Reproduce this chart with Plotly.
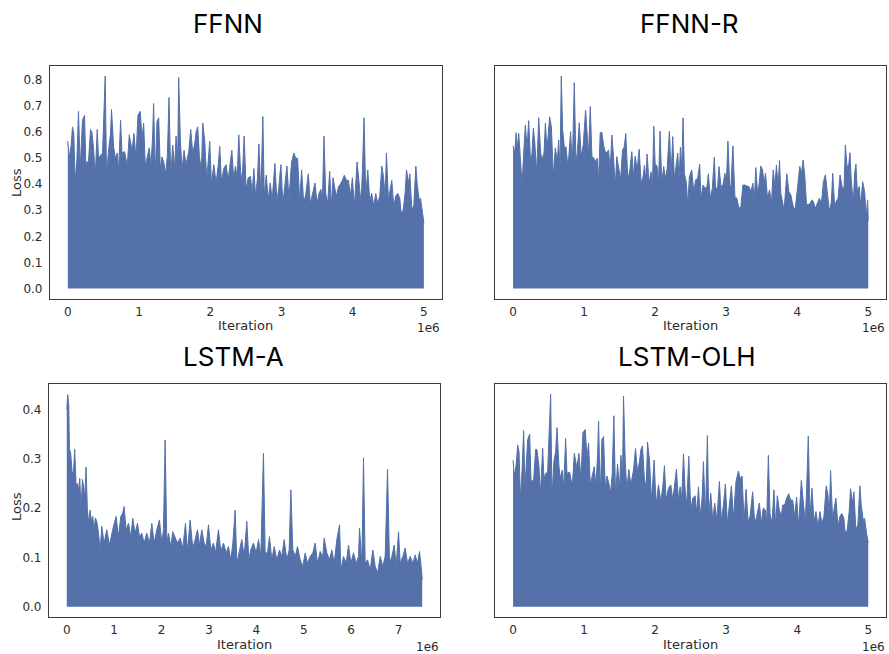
import plotly.graph_objects as go

# ---------------- data: upper envelope of each loss trace (iterations in units of 1e6) ----------------
ffnn_iter = [0.000, 0.019, 0.047, 0.066, 0.084, 0.103, 0.127, 0.150, 0.174, 0.206, 0.235, 0.253, 0.291, 0.319,
             0.338, 0.361, 0.385, 0.413, 0.431, 0.460, 0.488, 0.525, 0.544, 0.572, 0.600, 0.614, 0.643, 0.666,
             0.694, 0.713, 0.741, 0.760, 0.797, 0.835, 0.863, 0.901, 0.929, 0.957, 0.985, 1.018, 1.041, 1.065,
             1.088, 1.116, 1.144, 1.168, 1.191, 1.205, 1.229, 1.252, 1.276, 1.299, 1.323, 1.351, 1.374, 1.398,
             1.421, 1.445, 1.473, 1.501, 1.520, 1.543, 1.557, 1.581, 1.604, 1.632, 1.660, 1.698, 1.726, 1.754,
             1.782, 1.801, 1.824, 1.848, 1.876, 1.895, 1.923, 1.951, 1.993, 2.017, 2.050, 2.082, 2.111, 2.134,
             2.157, 2.190, 2.223, 2.251, 2.275, 2.303, 2.331, 2.354, 2.378, 2.401, 2.425, 2.448, 2.476, 2.504,
             2.533, 2.565, 2.589, 2.612, 2.636, 2.664, 2.683, 2.711, 2.739, 2.758, 2.786, 2.814, 2.842, 2.870,
             2.908, 2.936, 2.964, 2.992, 3.020, 3.049, 3.077, 3.105, 3.142, 3.175, 3.199, 3.227, 3.255, 3.283,
             3.311, 3.339, 3.377, 3.405, 3.433, 3.471, 3.499, 3.527, 3.555, 3.574, 3.597, 3.621, 3.649, 3.677,
             3.700, 3.724, 3.752, 3.775, 3.799, 3.827, 3.855, 3.883, 3.911, 3.940, 3.968, 3.996, 4.024, 4.062,
             4.090, 4.118, 4.137, 4.160, 4.184, 4.212, 4.240, 4.268, 4.296, 4.324, 4.352, 4.380, 4.409, 4.432,
             4.456, 4.474, 4.502, 4.531, 4.549, 4.577, 4.605, 4.634, 4.662, 4.681, 4.709, 4.737, 4.756, 4.784,
             4.803, 4.831, 4.859, 4.887, 4.906, 4.934, 4.953, 4.981, 5.000]
ffnn_loss = [0.566, 0.500, 0.550, 0.620, 0.595, 0.415, 0.490, 0.680, 0.460, 0.645, 0.665, 0.480, 0.490, 0.610,
             0.600, 0.540, 0.430, 0.610, 0.500, 0.510, 0.520, 0.815, 0.430, 0.530, 0.595, 0.687, 0.545, 0.500,
             0.520, 0.450, 0.645, 0.520, 0.525, 0.470, 0.590, 0.530, 0.595, 0.500, 0.665, 0.680, 0.575, 0.635,
             0.470, 0.505, 0.540, 0.470, 0.585, 0.710, 0.430, 0.640, 0.655, 0.455, 0.505, 0.480, 0.440, 0.510,
             0.733, 0.430, 0.550, 0.460, 0.585, 0.490, 0.810, 0.565, 0.455, 0.530, 0.475, 0.525, 0.610, 0.520,
             0.555, 0.600, 0.620, 0.505, 0.455, 0.635, 0.565, 0.415, 0.565, 0.400, 0.475, 0.405, 0.470, 0.545,
             0.410, 0.460, 0.475, 0.415, 0.475, 0.530, 0.415, 0.470, 0.425, 0.590, 0.455, 0.405, 0.585, 0.380,
             0.425, 0.430, 0.365, 0.460, 0.355, 0.425, 0.555, 0.355, 0.660, 0.355, 0.435, 0.340, 0.405, 0.340,
             0.480, 0.335, 0.390, 0.475, 0.325, 0.400, 0.470, 0.345, 0.485, 0.520, 0.500, 0.500, 0.335, 0.455,
             0.335, 0.355, 0.440, 0.325, 0.355, 0.405, 0.325, 0.365, 0.380, 0.325, 0.585, 0.365, 0.325, 0.450,
             0.315, 0.425, 0.380, 0.355, 0.390, 0.400, 0.415, 0.435, 0.415, 0.415, 0.355, 0.425, 0.315, 0.485,
             0.405, 0.325, 0.455, 0.655, 0.355, 0.455, 0.335, 0.365, 0.315, 0.365, 0.325, 0.355, 0.470, 0.430,
             0.355, 0.520, 0.340, 0.385, 0.415, 0.315, 0.355, 0.365, 0.345, 0.290, 0.300, 0.370, 0.455, 0.405,
             0.440, 0.300, 0.320, 0.470, 0.400, 0.340, 0.345, 0.290, 0.250]

ffnnr_iter = [0.000, 0.024, 0.043, 0.061, 0.080, 0.099, 0.127, 0.150, 0.173, 0.197, 0.220, 0.248, 0.267, 0.286,
              0.305, 0.333, 0.361, 0.389, 0.408, 0.436, 0.455, 0.478, 0.501, 0.515, 0.539, 0.567, 0.595, 0.623,
              0.642, 0.661, 0.679, 0.698, 0.726, 0.745, 0.773, 0.810, 0.834, 0.862, 0.885, 0.904, 0.932, 0.960,
              0.988, 1.021, 1.044, 1.063, 1.087, 1.110, 1.138, 1.157, 1.185, 1.204, 1.227, 1.250, 1.274, 1.297,
              1.321, 1.344, 1.367, 1.391, 1.414, 1.438, 1.461, 1.484, 1.513, 1.541, 1.564, 1.587, 1.616, 1.644,
              1.672, 1.695, 1.719, 1.747, 1.775, 1.803, 1.831, 1.850, 1.869, 1.887, 1.915, 1.943, 1.962, 1.981,
              2.000, 2.028, 2.046, 2.070, 2.093, 2.121, 2.140, 2.168, 2.201, 2.224, 2.248, 2.271, 2.290, 2.318,
              2.337, 2.356, 2.374, 2.393, 2.412, 2.440, 2.459, 2.482, 2.515, 2.543, 2.571, 2.599, 2.627, 2.646,
              2.674, 2.702, 2.730, 2.749, 2.777, 2.805, 2.833, 2.852, 2.880, 2.899, 2.927, 2.955, 2.983, 3.002,
              3.025, 3.049, 3.067, 3.095, 3.123, 3.151, 3.179, 3.207, 3.236, 3.264, 3.292, 3.320, 3.348, 3.376,
              3.395, 3.418, 3.442, 3.460, 3.488, 3.512, 3.535, 3.554, 3.582, 3.610, 3.638, 3.662, 3.685, 3.708,
              3.732, 3.751, 3.769, 3.797, 3.816, 3.835, 3.854, 3.882, 3.910, 3.929, 3.957, 3.976, 4.013, 4.036,
              4.060, 4.083, 4.106, 4.130, 4.153, 4.181, 4.209, 4.228, 4.256, 4.284, 4.312, 4.341, 4.369, 4.397,
              4.425, 4.453, 4.481, 4.500, 4.528, 4.547, 4.575, 4.603, 4.631, 4.659, 4.678, 4.701, 4.725, 4.743,
              4.762, 4.790, 4.809, 4.827, 4.846, 4.874, 4.893, 4.921, 4.949, 4.973, 4.991, 5.000]
ffnnr_loss = [0.547, 0.520, 0.598, 0.540, 0.595, 0.505, 0.397, 0.520, 0.627, 0.540, 0.644, 0.474, 0.520, 0.615,
              0.563, 0.442, 0.655, 0.520, 0.493, 0.520, 0.634, 0.532, 0.602, 0.659, 0.621, 0.429, 0.540, 0.487,
              0.570, 0.455, 0.815, 0.608, 0.532, 0.544, 0.461, 0.602, 0.468, 0.790, 0.487, 0.520, 0.636, 0.506,
              0.551, 0.685, 0.589, 0.512, 0.698, 0.506, 0.500, 0.487, 0.500, 0.417, 0.598, 0.599, 0.551, 0.525,
              0.520, 0.532, 0.455, 0.589, 0.506, 0.391, 0.506, 0.468, 0.417, 0.532, 0.542, 0.595, 0.417, 0.455,
              0.525, 0.429, 0.508, 0.455, 0.534, 0.404, 0.429, 0.474, 0.410, 0.516, 0.404, 0.448, 0.384, 0.623,
              0.480, 0.468, 0.391, 0.604, 0.404, 0.468, 0.423, 0.455, 0.604, 0.429, 0.583, 0.417, 0.455, 0.520,
              0.417, 0.542, 0.455, 0.655, 0.442, 0.404, 0.320, 0.429, 0.455, 0.372, 0.417, 0.423, 0.477, 0.346,
              0.397, 0.384, 0.391, 0.440, 0.346, 0.384, 0.503, 0.378, 0.391, 0.468, 0.391, 0.397, 0.442, 0.397,
              0.566, 0.397, 0.391, 0.547, 0.352, 0.346, 0.308, 0.314, 0.397, 0.397, 0.393, 0.391, 0.372, 0.404,
              0.333, 0.464, 0.365, 0.391, 0.470, 0.455, 0.404, 0.442, 0.346, 0.378, 0.327, 0.455, 0.391, 0.474,
              0.391, 0.491, 0.365, 0.333, 0.301, 0.372, 0.440, 0.372, 0.359, 0.333, 0.301, 0.314, 0.404, 0.468,
              0.442, 0.493, 0.436, 0.327, 0.320, 0.327, 0.340, 0.333, 0.308, 0.327, 0.346, 0.327, 0.410, 0.436,
              0.352, 0.295, 0.333, 0.442, 0.314, 0.333, 0.346, 0.436, 0.391, 0.384, 0.551, 0.468, 0.474, 0.521,
              0.410, 0.327, 0.442, 0.477, 0.372, 0.391, 0.314, 0.410, 0.372, 0.276, 0.340, 0.260]

lstma_iter = [0.000, 0.020, 0.042, 0.056, 0.084, 0.112, 0.140, 0.168, 0.196, 0.224, 0.253, 0.274, 0.302, 0.330,
              0.358, 0.379, 0.407, 0.435, 0.464, 0.492, 0.520, 0.548, 0.576, 0.604, 0.632, 0.661, 0.704, 0.739,
              0.788, 0.844, 0.901, 0.950, 0.985, 1.041, 1.090, 1.140, 1.182, 1.210, 1.252, 1.302, 1.351, 1.393,
              1.442, 1.492, 1.534, 1.583, 1.632, 1.688, 1.745, 1.794, 1.843, 1.899, 1.956, 2.005, 2.040, 2.075,
              2.111, 2.146, 2.195, 2.237, 2.286, 2.336, 2.392, 2.448, 2.505, 2.547, 2.603, 2.659, 2.709, 2.758,
              2.800, 2.849, 2.898, 2.941, 2.990, 3.039, 3.095, 3.138, 3.201, 3.250, 3.307, 3.363, 3.412, 3.461,
              3.504, 3.553, 3.588, 3.644, 3.693, 3.743, 3.799, 3.841, 3.883, 3.939, 3.996, 4.045, 4.094, 4.150,
              4.186, 4.235, 4.277, 4.326, 4.376, 4.432, 4.488, 4.538, 4.587, 4.643, 4.692, 4.728, 4.770, 4.819,
              4.868, 4.925, 4.981, 5.030, 5.079, 5.136, 5.192, 5.241, 5.290, 5.347, 5.403, 5.431, 5.487, 5.544,
              5.593, 5.642, 5.698, 5.755, 5.783, 5.839, 5.895, 5.945, 5.994, 6.050, 6.106, 6.156, 6.177, 6.226,
              6.261, 6.296, 6.346, 6.402, 6.458, 6.507, 6.557, 6.613, 6.669, 6.718, 6.768, 6.810, 6.859, 6.909,
              6.951, 7.000, 7.035, 7.091, 7.140, 7.190, 7.246, 7.302, 7.351, 7.400, 7.443, 7.471, 7.500]
lstma_loss = [0.400, 0.430, 0.410, 0.320, 0.310, 0.274, 0.270, 0.319, 0.247, 0.250, 0.237, 0.260, 0.196, 0.258,
              0.243, 0.216, 0.283, 0.196, 0.170, 0.196, 0.173, 0.183, 0.156, 0.180, 0.173, 0.156, 0.115, 0.163,
              0.129, 0.156, 0.125, 0.149, 0.163, 0.183, 0.142, 0.183, 0.190, 0.203, 0.156, 0.169, 0.142, 0.179,
              0.149, 0.169, 0.142, 0.149, 0.129, 0.149, 0.129, 0.169, 0.129, 0.156, 0.176, 0.129, 0.156, 0.338,
              0.129, 0.149, 0.122, 0.152, 0.142, 0.129, 0.139, 0.119, 0.169, 0.112, 0.176, 0.119, 0.136, 0.156,
              0.125, 0.156, 0.129, 0.122, 0.166, 0.115, 0.129, 0.109, 0.156, 0.112, 0.129, 0.109, 0.122, 0.095,
              0.129, 0.196, 0.088, 0.115, 0.136, 0.102, 0.173, 0.095, 0.115, 0.129, 0.109, 0.136, 0.102, 0.311,
              0.109, 0.109, 0.142, 0.095, 0.122, 0.095, 0.115, 0.102, 0.136, 0.095, 0.115, 0.237, 0.115, 0.102,
              0.122, 0.095, 0.082, 0.109, 0.088, 0.102, 0.109, 0.129, 0.088, 0.112, 0.102, 0.139, 0.109, 0.095,
              0.115, 0.088, 0.136, 0.166, 0.075, 0.102, 0.088, 0.125, 0.088, 0.109, 0.088, 0.102, 0.159, 0.088,
              0.302, 0.088, 0.095, 0.075, 0.115, 0.082, 0.068, 0.102, 0.082, 0.102, 0.279, 0.088, 0.102, 0.125,
              0.082, 0.152, 0.088, 0.102, 0.119, 0.088, 0.102, 0.088, 0.105, 0.088, 0.112, 0.088, 0.055]

olh_iter = [0.000, 0.018, 0.046, 0.065, 0.084, 0.103, 0.121, 0.149, 0.168, 0.206, 0.234, 0.253, 0.290, 0.318,
            0.337, 0.365, 0.384, 0.417, 0.435, 0.459, 0.487, 0.529, 0.548, 0.576, 0.599, 0.618, 0.646, 0.665,
            0.693, 0.712, 0.740, 0.759, 0.796, 0.834, 0.862, 0.899, 0.927, 0.955, 0.984, 1.016, 1.040, 1.063,
            1.087, 1.115, 1.143, 1.166, 1.190, 1.204, 1.227, 1.251, 1.274, 1.298, 1.321, 1.349, 1.373, 1.396,
            1.419, 1.443, 1.471, 1.499, 1.518, 1.541, 1.555, 1.579, 1.602, 1.630, 1.658, 1.696, 1.724, 1.752,
            1.780, 1.799, 1.822, 1.846, 1.874, 1.893, 1.921, 1.949, 1.986, 2.014, 2.047, 2.080, 2.108, 2.131,
            2.155, 2.188, 2.220, 2.249, 2.272, 2.300, 2.328, 2.352, 2.375, 2.399, 2.422, 2.445, 2.474, 2.502,
            2.530, 2.563, 2.586, 2.610, 2.633, 2.661, 2.680, 2.708, 2.736, 2.755, 2.783, 2.811, 2.839, 2.868,
            2.905, 2.933, 2.961, 2.989, 3.017, 3.046, 3.074, 3.102, 3.139, 3.172, 3.195, 3.224, 3.252, 3.280,
            3.308, 3.336, 3.373, 3.402, 3.430, 3.467, 3.495, 3.523, 3.551, 3.570, 3.594, 3.617, 3.645, 3.673,
            3.697, 3.720, 3.748, 3.776, 3.795, 3.823, 3.851, 3.880, 3.908, 3.936, 3.964, 3.992, 4.020, 4.058,
            4.086, 4.114, 4.133, 4.156, 4.180, 4.208, 4.236, 4.264, 4.292, 4.320, 4.348, 4.376, 4.409, 4.433,
            4.451, 4.470, 4.498, 4.526, 4.545, 4.573, 4.601, 4.629, 4.657, 4.676, 4.704, 4.732, 4.751, 4.779,
            4.798, 4.826, 4.854, 4.882, 4.901, 4.929, 4.948, 4.976, 5.000]
olh_loss = [0.297, 0.264, 0.291, 0.328, 0.314, 0.220, 0.257, 0.357, 0.243, 0.339, 0.350, 0.254, 0.257, 0.319,
            0.318, 0.284, 0.225, 0.321, 0.260, 0.270, 0.273, 0.431, 0.223, 0.296, 0.314, 0.363, 0.285, 0.260,
            0.277, 0.237, 0.341, 0.270, 0.273, 0.243, 0.311, 0.281, 0.311, 0.260, 0.353, 0.359, 0.304, 0.331,
            0.247, 0.264, 0.284, 0.243, 0.307, 0.376, 0.223, 0.339, 0.345, 0.240, 0.265, 0.250, 0.230, 0.270,
            0.387, 0.225, 0.289, 0.240, 0.307, 0.260, 0.427, 0.294, 0.237, 0.278, 0.247, 0.277, 0.321, 0.273,
            0.294, 0.318, 0.326, 0.265, 0.237, 0.334, 0.296, 0.216, 0.297, 0.206, 0.247, 0.213, 0.243, 0.286,
            0.216, 0.240, 0.247, 0.216, 0.248, 0.279, 0.216, 0.243, 0.220, 0.310, 0.237, 0.206, 0.305, 0.196,
            0.220, 0.225, 0.189, 0.243, 0.183, 0.220, 0.294, 0.184, 0.347, 0.183, 0.230, 0.177, 0.210, 0.176,
            0.254, 0.173, 0.206, 0.249, 0.169, 0.206, 0.245, 0.179, 0.254, 0.275, 0.260, 0.265, 0.173, 0.238,
            0.173, 0.183, 0.233, 0.169, 0.183, 0.210, 0.169, 0.200, 0.196, 0.169, 0.307, 0.189, 0.169, 0.237,
            0.163, 0.225, 0.196, 0.183, 0.206, 0.206, 0.220, 0.229, 0.216, 0.216, 0.183, 0.222, 0.163, 0.256,
            0.210, 0.169, 0.240, 0.346, 0.183, 0.240, 0.173, 0.193, 0.163, 0.193, 0.169, 0.183, 0.245, 0.227,
            0.183, 0.276, 0.179, 0.200, 0.220, 0.163, 0.183, 0.189, 0.179, 0.149, 0.156, 0.193, 0.239, 0.210,
            0.233, 0.156, 0.166, 0.245, 0.206, 0.176, 0.179, 0.149, 0.130]

titles = ["FFNN", "FFNN-R", "LSTM-A", "LSTM-OLH"]
x_tick_vals_5 = [0, 1, 2, 3, 4, 5]
x_tick_vals_7 = [0, 1, 2, 3, 4, 5, 6, 7]
y_ticks_top = [0.0, 0.1, 0.2, 0.3, 0.4, 0.5, 0.6, 0.7, 0.8]
y_ticks_bottom = [0.0, 0.1, 0.2, 0.3, 0.4]

# ---------------- figure ----------------
W, H = 889, 654
COLOR = "#5471AA"
TXT = "#2b2b2b"
FRAME = "#3a3a3a"


def px(x):
    return x / W


def py(y):
    return 1 - y / H


fig = go.Figure()

series = [
    (ffnn_iter, ffnn_loss, "x", "y"),
    (ffnnr_iter, ffnnr_loss, "x2", "y2"),
    (lstma_iter, lstma_loss, "x3", "y3"),
    (olh_iter, olh_loss, "x4", "y4"),
]
for it, lo, xa, ya in series:
    fig.add_trace(go.Scatter(
        x=[v * 1e6 for v in it], y=lo, xaxis=xa, yaxis=ya, mode="lines",
        line=dict(color=COLOR, width=1), fill="tozeroy", fillcolor=COLOR,
        showlegend=False, hoverinfo="skip"))

# panel rectangles (pixels)
top_row = (65.7, 299.0)
bot_row = (384.0, 617.3)
panels = [
    (50.0, 441.7, top_row),
    (495.3, 886.0, top_row),
    (49.0, 440.0, bot_row),
    (495.3, 886.0, bot_row),
]

tick_font = dict(family="DejaVu Sans", size=12, color=TXT)
axis_common = dict(showline=True, linecolor=FRAME, linewidth=1.2, mirror=True,
                   showgrid=False, zeroline=False, ticks="", tickfont=tick_font)

xranges = [[-0.25e6, 5.25e6], [-0.25e6, 5.25e6], [-0.375e6, 7.875e6], [-0.25e6, 5.25e6]]
yranges = [[-0.0405, 0.855], [-0.0405, 0.855], [-0.0215, 0.4515], [-0.0215, 0.4515]]
xticks = [x_tick_vals_5, x_tick_vals_5, x_tick_vals_7, x_tick_vals_5]
yticks = [y_ticks_top, y_ticks_top, y_ticks_bottom, y_ticks_bottom]

layout = dict(width=W, height=H, margin=dict(l=0, r=0, t=0, b=0),
              paper_bgcolor="white", plot_bgcolor="white", showlegend=False)

for i, (x0, x1, (y0, y1)) in enumerate(panels):
    sfx = "" if i == 0 else str(i + 1)
    layout["xaxis" + sfx] = dict(
        axis_common, domain=[px(x0), px(x1)], range=xranges[i],
        anchor="y" + sfx, tickvals=[v * 1e6 for v in xticks[i]],
        ticktext=[str(v) for v in xticks[i]], ticklabelstandoff=1)
    ydict = dict(axis_common, domain=[py(y1), py(y0)], range=yranges[i],
                 anchor="x" + sfx, tickvals=yticks[i],
                 ticktext=["%.1f" % v for v in yticks[i]], ticklabelstandoff=4)
    if i in (1, 3):
        ydict["showticklabels"] = False
    layout["yaxis" + sfx] = ydict

fig.update_layout(**layout)

annotations = []
title_pos = [(228, 23), (689, 23), (233, 357), (687, 357)]
for t, (x, y) in zip(titles, title_pos):
    annotations.append(dict(text=t, x=px(x), y=py(y), xref="paper", yref="paper",
                            xanchor="center", yanchor="middle", showarrow=False,
                            font=dict(family="Inter", size=26, color="black", weight=400)))
iter_pos = [(245.7, 325.5), (690, 325.5), (244, 644), (690.7, 644)]
for x, y in iter_pos:
    annotations.append(dict(text="Iteration", x=px(x), y=py(y), xref="paper", yref="paper",
                            xanchor="center", yanchor="middle", showarrow=False,
                            font=dict(family="DejaVu Sans", size=13, color=TXT)))
e6_pos = [(442, 319), (887, 319), (441, 637.5), (887, 637.5)]
for x, y in e6_pos:
    annotations.append(dict(text="1e6", x=px(x), y=py(y), xref="paper", yref="paper",
                            xanchor="right", yanchor="top", showarrow=False,
                            font=dict(family="DejaVu Sans", size=12, color=TXT)))
loss_pos = [(16, 183), (16, 507)]
for x, y in loss_pos:
    annotations.append(dict(text="Loss", x=px(x), y=py(y), xref="paper", yref="paper",
                            xanchor="center", yanchor="middle", showarrow=False, textangle=-90,
                            font=dict(family="DejaVu Sans", size=13, color=TXT)))
fig.update_layout(annotations=annotations)

fig.write_html("out.html")
